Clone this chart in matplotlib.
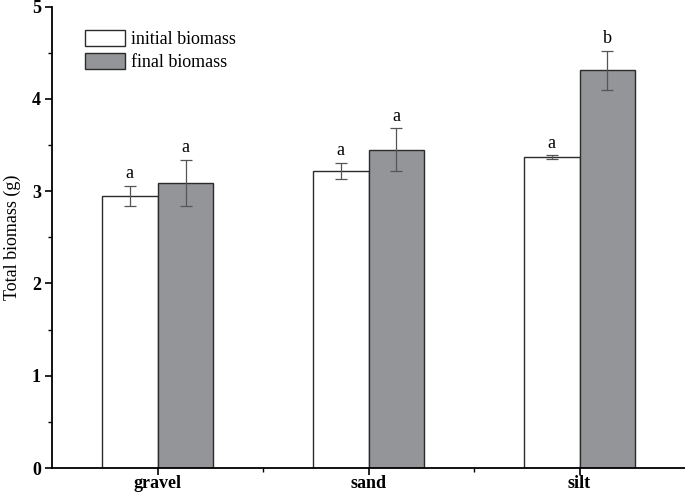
import matplotlib.pyplot as plt
import numpy as np

plt.rcParams['font.family'] = ['Liberation Serif', 'DejaVu Serif']

soil = ['gravel', 'sand', 'silt']
initial = [2.95, 3.22, 3.37]
initial_err = [0.11, 0.09, 0.02]
final = [3.09, 3.45, 4.31]
final_err = [0.25, 0.23, 0.21]
initial_lab = ['a', 'a', 'a']
final_lab = ['a', 'a', 'b']

fig = plt.figure(figsize=(6.85, 4.95), dpi=100)
ax = fig.add_axes([0.076, 0.0545, 0.924, 0.932])

x = np.arange(1, len(soil) + 1)
w = 0.265
ec = '#2b2b2b'
b1 = ax.bar(x - w / 2, initial, w, color='white', edgecolor=ec, linewidth=1.0, label='initial biomass')
b2 = ax.bar(x + w / 2, final, w, color='#939598', edgecolor=ec, linewidth=1.0, label='final biomass')
ax.errorbar(x - w / 2, initial, yerr=initial_err, fmt='none', ecolor='#555555', elinewidth=0.9, capsize=4, capthick=0.9)
ax.errorbar(x + w / 2, final, yerr=final_err, fmt='none', ecolor='#555555', elinewidth=0.9, capsize=4, capthick=0.9)

for i in range(len(soil)):
    ax.text(x[i] - w / 2, initial[i] + initial_err[i] + 0.04, initial_lab[i], ha='center', va='bottom', fontsize=13)
    ax.text(x[i] + w / 2, final[i] + final_err[i] + 0.04, final_lab[i], ha='center', va='bottom', fontsize=13)

ax.set_xlim(0.5, 3.5)
ax.set_ylim(0, 5)
ax.set_xticks(x)
ax.set_xticklabels(soil, fontsize=13, fontweight='bold')
ax.set_xticks([1.5, 2.5], minor=True)
ax.set_yticks([0, 1, 2, 3, 4, 5])
ax.set_yticklabels(['0', '1', '2', '3', '4', '5'], fontsize=13, fontweight='bold')
ax.set_yticks(np.arange(0.5, 5, 1.0), minor=True)
ax.tick_params(axis='both', which='major', direction='out', length=5, width=1.2, pad=3)
ax.tick_params(axis='x', which='major', pad=0)
ax.tick_params(axis='both', which='minor', direction='out', length=3, width=1.0)
ax.spines['top'].set_visible(False)
ax.spines['right'].set_visible(False)
ax.spines['left'].set_linewidth(1.3)
ax.spines['bottom'].set_linewidth(1.3)
ax.set_ylabel('Total biomass (g)', fontsize=13, labelpad=8)

ax.legend(loc='upper left', bbox_to_anchor=(0.027, 0.985), frameon=False, fontsize=13,
          handlelength=2.2, handleheight=1.0, handletextpad=0.3, labelspacing=0.25)

fig.savefig('out.png', dpi=100)
